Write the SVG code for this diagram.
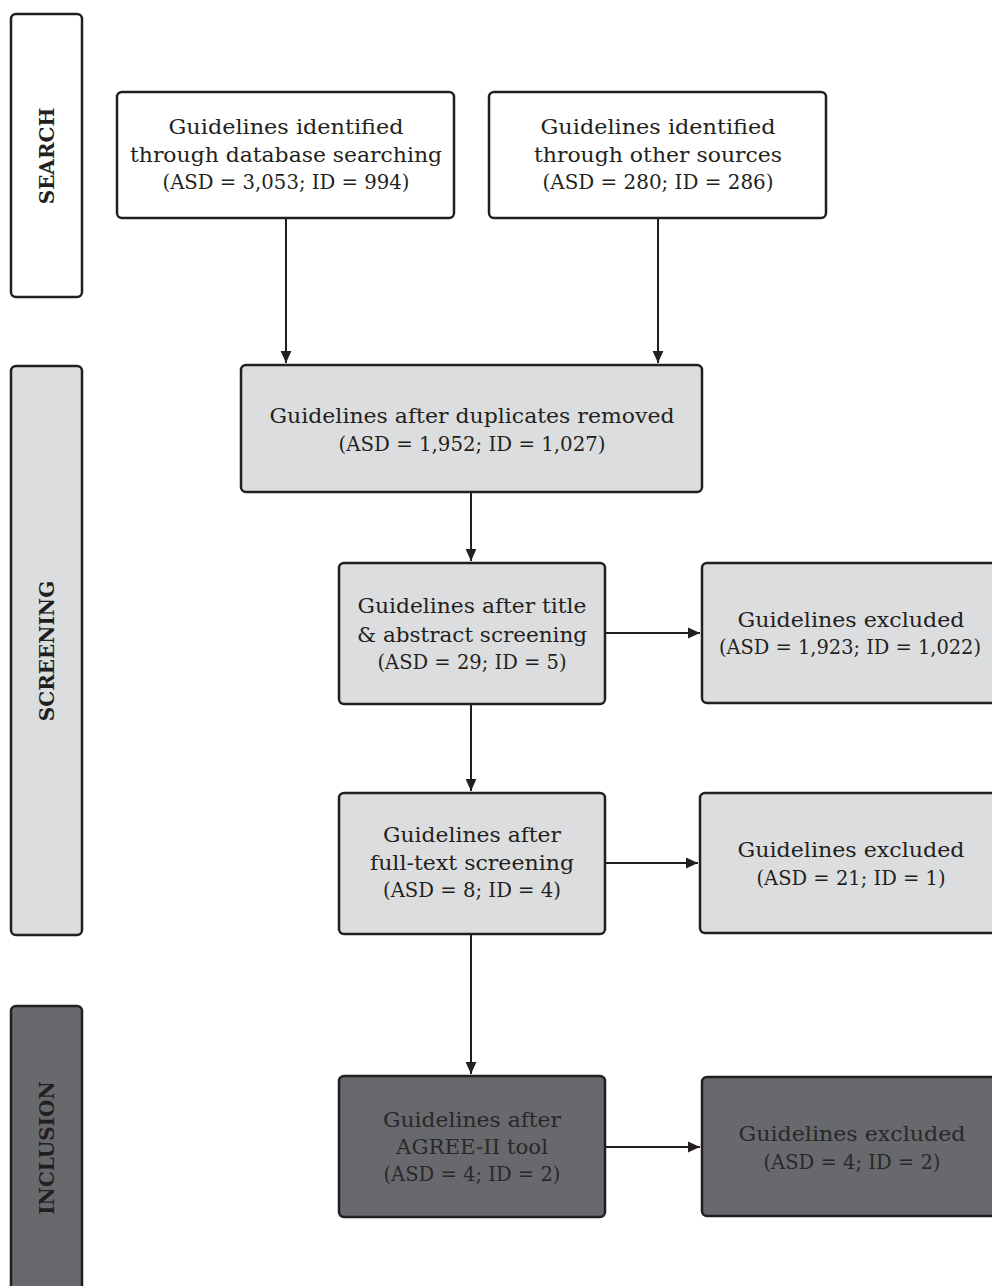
<svg xmlns="http://www.w3.org/2000/svg" width="992" height="1286" viewBox="0 0 992 1286">
<defs>
<marker id="ah" viewBox="0 0 10 10" refX="10" refY="5" markerWidth="12" markerHeight="12" markerUnits="userSpaceOnUse" orient="auto">
<path d="M0,0.5 L10,5 L0,9.5 z" fill="#231f20"/>
</marker>
<style>
.b{stroke:#231f20;stroke-width:2.5}
.w{fill:#ffffff}
.l{fill:#dcdddf}
.d{fill:#68696d}
.t{font-family:"DejaVu Serif","Liberation Serif",serif;font-size:21px;fill:#231f20;text-anchor:middle}
.td{fill:#28282a}
.s{font-family:"DejaVu Serif","Liberation Serif",serif;font-size:20px;font-weight:bold;fill:#231f20;text-anchor:middle}
.c{stroke:#231f20;stroke-width:2;fill:none}
</style>
</defs>
<rect width="992" height="1286" fill="#ffffff"/>
<g id="stage-search">
<rect class="b w" x="11" y="14" width="71" height="283" rx="5"/>
<text class="s" transform="translate(54,156) rotate(-90)">SEARCH</text>
</g>
<g id="stage-screening">
<rect class="b l" x="11" y="366" width="71" height="569" rx="5"/>
<text class="s" transform="translate(54,651) rotate(-90)">SCREENING</text>
</g>
<g id="stage-inclusion">
<rect class="b d" x="11" y="1006" width="71" height="300" rx="5"/>
<text class="s" transform="translate(54,1148) rotate(-90)">INCLUSION</text>
</g>
<g id="n1">
<rect class="b w" x="117" y="92" width="337" height="126" rx="5"/>
<text class="t" x="286" y="134" textLength="235" lengthAdjust="spacingAndGlyphs">Guidelines identified</text>
<text class="t" x="286" y="162" textLength="312" lengthAdjust="spacingAndGlyphs">through database searching</text>
<text class="t" x="286" y="189" textLength="247" lengthAdjust="spacingAndGlyphs">(ASD = 3,053; ID = 994)</text>
</g>
<g id="n2">
<rect class="b w" x="489" y="92" width="337" height="126" rx="5"/>
<text class="t" x="658" y="134" textLength="235" lengthAdjust="spacingAndGlyphs">Guidelines identified</text>
<text class="t" x="658" y="162" textLength="248" lengthAdjust="spacingAndGlyphs">through other sources</text>
<text class="t" x="658" y="189" textLength="231" lengthAdjust="spacingAndGlyphs">(ASD = 280; ID = 286)</text>
</g>
<g id="n3">
<rect class="b l" x="241" y="365" width="461" height="127" rx="5"/>
<text class="t" x="472" y="423" textLength="405" lengthAdjust="spacingAndGlyphs">Guidelines after duplicates removed</text>
<text class="t" x="472" y="451" textLength="267" lengthAdjust="spacingAndGlyphs">(ASD = 1,952; ID = 1,027)</text>
</g>
<g id="n4">
<rect class="b l" x="339" y="563" width="266" height="141" rx="5"/>
<text class="t" x="472" y="613" textLength="229" lengthAdjust="spacingAndGlyphs">Guidelines after title</text>
<text class="t" x="472" y="642" textLength="230" lengthAdjust="spacingAndGlyphs">&amp; abstract screening</text>
<text class="t" x="472" y="669" textLength="189" lengthAdjust="spacingAndGlyphs">(ASD = 29; ID = 5)</text>
</g>
<g id="n5">
<rect class="b l" x="702" y="563" width="300" height="140" rx="5"/>
<text class="t" x="851" y="627" textLength="227" lengthAdjust="spacingAndGlyphs">Guidelines excluded</text>
<text class="t" x="850" y="654" textLength="262" lengthAdjust="spacingAndGlyphs">(ASD = 1,923; ID = 1,022)</text>
</g>
<g id="n6">
<rect class="b l" x="339" y="793" width="266" height="141" rx="5"/>
<text class="t" x="472" y="842" textLength="178" lengthAdjust="spacingAndGlyphs">Guidelines after</text>
<text class="t" x="472" y="870" textLength="204" lengthAdjust="spacingAndGlyphs">full-text screening</text>
<text class="t" x="472" y="897" textLength="178" lengthAdjust="spacingAndGlyphs">(ASD = 8; ID = 4)</text>
</g>
<g id="n7">
<rect class="b l" x="700" y="793" width="302" height="140" rx="5"/>
<text class="t" x="851" y="857" textLength="227" lengthAdjust="spacingAndGlyphs">Guidelines excluded</text>
<text class="t" x="851" y="885" textLength="189" lengthAdjust="spacingAndGlyphs">(ASD = 21; ID = 1)</text>
</g>
<g id="n8">
<rect class="b d" x="339" y="1076" width="266" height="141" rx="5"/>
<text class="t td" x="472" y="1127" textLength="178" lengthAdjust="spacingAndGlyphs">Guidelines after</text>
<text class="t td" x="472" y="1154" textLength="152" lengthAdjust="spacingAndGlyphs">AGREE-II tool</text>
<text class="t td" x="472" y="1181" textLength="177" lengthAdjust="spacingAndGlyphs">(ASD = 4; ID = 2)</text>
</g>
<g id="n9">
<rect class="b d" x="702" y="1077" width="300" height="139" rx="5"/>
<text class="t td" x="852" y="1141" textLength="227" lengthAdjust="spacingAndGlyphs">Guidelines excluded</text>
<text class="t td" x="852" y="1169" textLength="177" lengthAdjust="spacingAndGlyphs">(ASD = 4; ID = 2)</text>
</g>
<g id="connectors">
<line class="c" x1="286" y1="219" x2="286" y2="363" marker-end="url(#ah)"/>
<line class="c" x1="658" y1="219" x2="658" y2="363" marker-end="url(#ah)"/>
<line class="c" x1="471" y1="493" x2="471" y2="561" marker-end="url(#ah)"/>
<line class="c" x1="606" y1="633" x2="700" y2="633" marker-end="url(#ah)"/>
<line class="c" x1="471" y1="705" x2="471" y2="791" marker-end="url(#ah)"/>
<line class="c" x1="606" y1="863" x2="698" y2="863" marker-end="url(#ah)"/>
<line class="c" x1="471" y1="935" x2="471" y2="1074" marker-end="url(#ah)"/>
<line class="c" x1="606" y1="1147" x2="700" y2="1147" marker-end="url(#ah)"/>
</g>
</svg>
